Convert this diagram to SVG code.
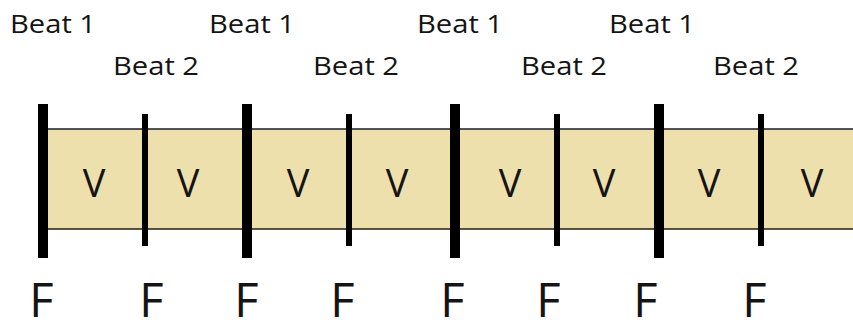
<svg xmlns="http://www.w3.org/2000/svg" width="853" height="322" viewBox="0 0 853 322">
<style>
.lbl{font-family:"Open Sans","Liberation Sans",sans-serif;fill:#141414}
.beat{font-size:26px}
.v{font-size:38px;text-anchor:middle}
.f{font-size:47px;text-anchor:middle}
.band{fill:#EDE0AC;stroke:#1e1e1e;stroke-width:1.5}
.thick{fill:#000}
.thin{fill:#000}
</style>
<rect width="853" height="322" fill="#fff"/>
<g id="band"><rect class="band" x="43" y="129" width="820" height="100"/></g>
<g id="bars">
<rect class="thick" x="38" y="104" width="10" height="154"/>
<rect class="thick" x="242" y="104" width="10" height="154"/>
<rect class="thick" x="450" y="104" width="10" height="154"/>
<rect class="thick" x="654" y="104" width="10" height="154"/>
<rect class="thin" x="142" y="114" width="6" height="132"/>
<rect class="thin" x="346" y="114" width="6" height="132"/>
<rect class="thin" x="554" y="114" width="6" height="132"/>
<rect class="thin" x="758" y="114" width="6" height="132"/>
</g>
<g id="beats">
<text class="lbl beat" x="10" y="33" textLength="86" lengthAdjust="spacingAndGlyphs">Beat 1</text>
<text class="lbl beat" x="209" y="33" textLength="86" lengthAdjust="spacingAndGlyphs">Beat 1</text>
<text class="lbl beat" x="417" y="33" textLength="86" lengthAdjust="spacingAndGlyphs">Beat 1</text>
<text class="lbl beat" x="609" y="33" textLength="86" lengthAdjust="spacingAndGlyphs">Beat 1</text>
<text class="lbl beat" x="113" y="75" textLength="86" lengthAdjust="spacingAndGlyphs">Beat 2</text>
<text class="lbl beat" x="313" y="75" textLength="86" lengthAdjust="spacingAndGlyphs">Beat 2</text>
<text class="lbl beat" x="521" y="75" textLength="86" lengthAdjust="spacingAndGlyphs">Beat 2</text>
<text class="lbl beat" x="713" y="75" textLength="86" lengthAdjust="spacingAndGlyphs">Beat 2</text>
</g>
<g id="vs">
<text class="lbl v" x="94" y="197">V</text>
<text class="lbl v" x="188" y="197">V</text>
<text class="lbl v" x="298" y="197">V</text>
<text class="lbl v" x="397" y="197">V</text>
<text class="lbl v" x="510" y="197">V</text>
<text class="lbl v" x="604" y="197">V</text>
<text class="lbl v" x="709" y="197">V</text>
<text class="lbl v" x="812" y="197">V</text>
</g>
<g id="fs">
<text class="lbl f" x="41.5" y="317">F</text>
<text class="lbl f" x="151.5" y="317">F</text>
<text class="lbl f" x="246.5" y="317">F</text>
<text class="lbl f" x="342.5" y="317">F</text>
<text class="lbl f" x="452.5" y="317">F</text>
<text class="lbl f" x="548.5" y="317">F</text>
<text class="lbl f" x="645.5" y="317">F</text>
<text class="lbl f" x="754.5" y="317">F</text>
</g>
</svg>
